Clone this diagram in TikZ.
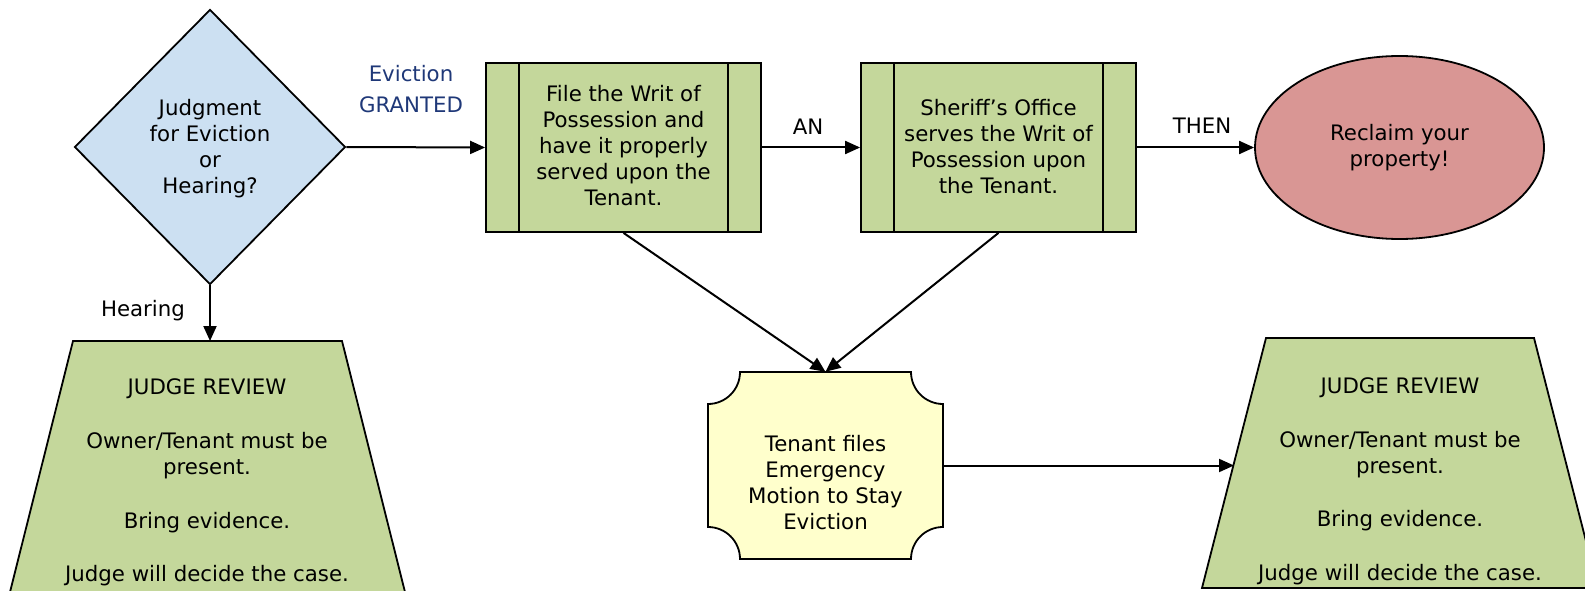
\documentclass[tikz,border=0pt]{standalone}
\usepackage{fontspec}
\setmainfont{DejaVu Sans}
\usetikzlibrary{shapes.geometric,arrows.meta,calc}
\definecolor{dblue}{RGB}{204,224,242}
\definecolor{pgreen}{RGB}{196,215,155}
\definecolor{pred}{RGB}{217,150,148}
\definecolor{pyellow}{RGB}{255,255,204}
\definecolor{navy}{RGB}{31,56,120}
\begin{document}
\begin{tikzpicture}[x=1pt,y=-1pt,
  txt/.style={font=\fontsize{21.3}{26}\selectfont, align=center, inner sep=0pt},
  conn/.style={line width=2pt, -{Triangle[length=15pt,width=13pt]}},
  shp/.style={draw=black, line width=1.8pt},
  procbox/.style={shp, fill=pgreen, minimum width=275pt, minimum height=169pt, inner sep=0pt}]
\useasboundingbox (0,0) rectangle (1585,591);

% decision
\node[shp, diamond, fill=dblue, minimum width=271pt, minimum height=275pt, txt] (dec) at (210,147) {};
\node[txt] (dectxt) at (210,148.5) {Judgment\\for Eviction\\or\\Hearing?};

% process boxes
\node[procbox] (b1) at (623.5,147.5) {};
\node[txt] (b1txt) at (623.5,145.5) {File the Writ of\\Possession and\\have it properly\\served upon the\\Tenant.};
\draw[shp] ($(b1.north west)+(34,0)$) -- ($(b1.south west)+(34,0)$);
\draw[shp] ($(b1.north east)+(-34,0)$) -- ($(b1.south east)+(-34,0)$);

\node[procbox] (b2) at (998.5,147.5) {};
\node[txt] (b2txt) at (998.5,147) {Sheriff’s Office\\serves the Writ of\\Possession upon\\the Tenant.};
\draw[shp] ($(b2.north west)+(34,0)$) -- ($(b2.south west)+(34,0)$);
\draw[shp] ($(b2.north east)+(-34,0)$) -- ($(b2.south east)+(-34,0)$);

% terminal
\node[shp, ellipse, fill=pred, minimum width=289pt, minimum height=183pt, txt] (recl) at (1399.5,147.5) {Reclaim your\\property!};

% motion box
\draw[shp, fill=pyellow] (740,372) -- (911,372)
  arc[start angle=180, end angle=270, radius=32pt] -- (943,527)
  arc[start angle=90, end angle=180, radius=32pt] -- (740,559)
  arc[start angle=0, end angle=90, radius=32pt] -- (708,404)
  arc[start angle=270, end angle=360, radius=32pt] -- cycle;
\node[minimum width=235pt, minimum height=187pt, inner sep=0pt] (motion) at (825.5,465.5) {};
\node[txt] (motiontxt) at (825.5,483) {Tenant files\\Emergency\\Motion to Stay\\Eviction};

% trapezoids
\draw[shp, fill=pgreen] (73,341) -- (342,341) -- (407,600) -- (8,600) -- cycle;
\coordinate (ltop) at (210,341);
\node[txt] (ltxt) at (207,482) {JUDGE REVIEW\\[28pt]Owner/Tenant must be\\present.\\[28pt]Bring evidence.\\[27pt]Judge will decide the case.};

\draw[shp, fill=pgreen] (1266,338) -- (1534,338) -- (1598,588) -- (1202,588) -- cycle;
\coordinate (rin) at (1234,465.5);
\node[txt] (rtxt) at (1400,481) {JUDGE REVIEW\\[28pt]Owner/Tenant must be\\present.\\[27pt]Bring evidence.\\[28pt]Judge will decide the case.};

% connectors
\draw[conn] (dec.east) -- (b1.west);
\draw[conn] (b1.east) -- (b2.west);
\draw[conn] (b2.east) -- (recl.west);
\draw[conn] (b1.south) -- (motion.north);
\draw[conn] (b2.south) -- (motion.north);
\draw[conn] (dec.south) -- (ltop);
\draw[conn] (motion.east) -- (rin);

% labels
\node[txt, text=navy] (granted) at (411,89) {Eviction\\[5pt]GRANTED};
\node[txt] (an) at (808,127) {AN};
\node[txt] (then) at (1202,126) {THEN};
\node[txt] (hear) at (143,311) {Hearing};
\end{tikzpicture}
\end{document}
